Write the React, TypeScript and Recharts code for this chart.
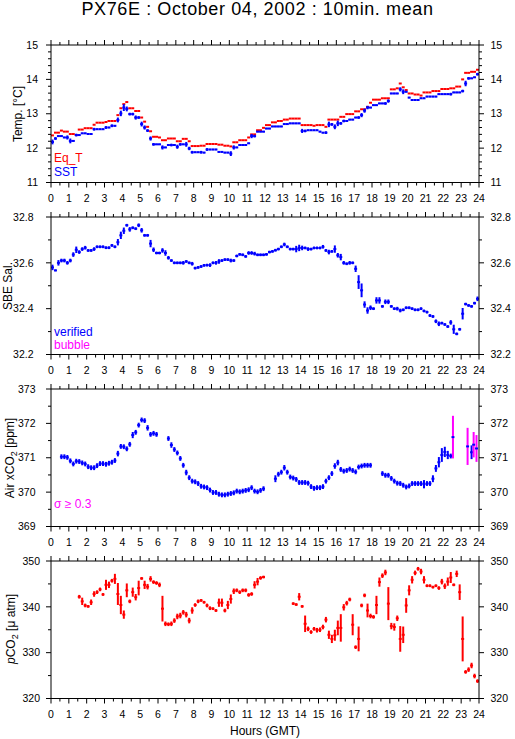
import React from 'react';
import { ScatterChart, Scatter, XAxis, YAxis, ErrorBar, Legend } from 'recharts';

const FONT = '"Liberation Sans", Arial, Helvetica, sans-serif';
const RED = '#ff0000';
const BLUE = '#0000ff';
const MAGENTA = '#ff00ff';

// x axis: hours of the day, ticks every half hour, labels every hour
const hourTicks = [
  0, 0.5, 1, 1.5, 2, 2.5, 3, 3.5, 4, 4.5, 5, 5.5, 6, 6.5, 7, 7.5, 8, 8.5, 9, 9.5, 10, 10.5, 11, 11.5,
  12, 12.5, 13, 13.5, 14, 14.5, 15, 15.5, 16, 16.5, 17, 17.5, 18, 18.5, 19, 19.5, 20, 20.5, 21, 21.5,
  22, 22.5, 23, 23.5, 24,
];
const hourLabels = [0, 1, 2, 3, 4, 5, 6, 7, 8, 9, 10, 11, 12, 13, 14, 15, 16, 17, 18, 19, 20, 21, 22, 23, 24];

const tempTicks = [11, 11.2, 11.4, 11.6, 11.8, 12, 12.2, 12.4, 12.6, 12.8, 13, 13.2, 13.4, 13.6, 13.8, 14, 14.2, 14.4, 14.6, 14.8, 15];
const tempLabels = [11, 12, 13, 14, 15];
const salTicks = [32.2, 32.3, 32.4, 32.5, 32.6, 32.7, 32.8];
const salLabels = [32.2, 32.4, 32.6, 32.8];
const co2Ticks = [369, 369.5, 370, 370.5, 371, 371.5, 372, 372.5, 373];
const co2Labels = [369, 370, 371, 372, 373];
const pco2Ticks = [320, 325, 330, 335, 340, 345, 350];
const pco2Labels = [320, 330, 340, 350];

// 10 min means, 6 per hour (row = one hour)
const eqT = [
  12.37, 12.45, 12.45, 12.51, 12.48, 12.48,
  12.41, 12.41, 12.38, 12.54, 12.54, 12.58,
  12.58, 12.58, 12.68, 12.74, 12.74, 12.74,
  12.76, 12.79, 12.79, 12.79, 12.96, 13.16,
  13.28, 13.34, 13.16, 13.16, 13.08, 13.08,
  12.89, 12.77, 12.62, 12.49, 12.33, 12.33,
  12.31, 12.23, 12.23, 12.28, 12.28, 12.28,
  12.2, 12.2, 12.27, 12.27, 12.2, 12.06,
  12.06, 12.06, 12.07, 12.07, 12.12, 12.12,
  12.12, 12.12, 12.1, 12.1, 12.07, 12.07,
  12.05, 12.17, 12.17, 12.23, 12.23, 12.23,
  12.31, 12.4, 12.4, 12.52, 12.52, 12.59,
  12.67, 12.67, 12.75, 12.75, 12.79, 12.79,
  12.83, 12.83, 12.86, 12.86, 12.86, 12.86,
  12.67, 12.67, 12.67, 12.67, 12.65, 12.67,
  12.67, 12.67, 12.62, 12.83, 12.83, 12.83,
  12.83, 12.91, 12.91, 12.99, 12.99, 12.99,
  13.07, 13.07, 13.13, 13.13, 13.2, 13.32,
  13.41, 13.41, 13.41, 13.45, 13.45, 13.45,
  13.71, 13.71, 13.74, 13.88, 13.77, 13.69,
  13.59, 13.59, 13.56, 13.56, 13.53, 13.62,
  13.62, 13.62, 13.66, 13.66, 13.66, 13.72,
  13.72, 13.72, 13.74, 13.74, 13.79, 13.79,
  14.0, 14.19, 14.19, 14.22, 14.22, 14.28,
];

const sst = [
  12.18, 12.28, 12.35, 12.35, 12.31, 12.31,
  12.21, 12.21, 12.38, 12.38, 12.43, 12.43,
  12.41, 12.41, 12.55, 12.55, 12.55, 12.55,
  12.6, 12.6, 12.65, 12.65, 12.82, 13.01,
  13.18, 13.14, 12.99, 12.99, 12.89, 12.89,
  12.7, 12.6, 12.51, 12.28, 12.11, 12.11,
  12.11, 12.02, 12.02, 12.09, 12.09, 12.09,
  12.04, 12.11, 12.11, 12.11, 11.99, 11.88,
  11.88, 11.88, 11.88, 11.87, 11.96, 11.96,
  11.96, 11.96, 11.89, 11.89, 11.87, 11.87,
  11.84, 12.02, 12.02, 12.09, 12.09, 12.09,
  12.14, 12.35, 12.35, 12.48, 12.48, 12.48,
  12.57, 12.57, 12.63, 12.63, 12.63, 12.63,
  12.7, 12.7, 12.72, 12.72, 12.72, 12.72,
  12.5, 12.5, 12.52, 12.52, 12.52, 12.52,
  12.48, 12.45, 12.45, 12.69, 12.69, 12.62,
  12.72, 12.72, 12.79, 12.79, 12.83, 12.83,
  12.89, 12.89, 12.96, 13.09, 13.18, 13.18,
  13.25, 13.25, 13.3, 13.3, 13.3, 13.37,
  13.59, 13.59, 13.59, 13.71, 13.64, 13.64,
  13.47, 13.4, 13.4, 13.4, 13.45, 13.45,
  13.5, 13.5, 13.5, 13.5, 13.57, 13.57,
  13.57, 13.57, 13.57, 13.62, 13.62, 13.62,
  13.66, 13.88, 14.03, 14.03, 14.06, 14.15,
];

const sstSigma = [
  0.07, 0.04, 0.02, 0.02, 0.02, 0.06,
  0.07, 0.02, 0.04, 0.02, 0.02, 0.02,
  0.02, 0.02, 0.04, 0.02, 0.02, 0.02,
  0.04, 0.02, 0.04, 0.02, 0.07, 0.08,
  0.1, 0.07, 0.04, 0.04, 0.06, 0.04,
  0.07, 0.06, 0.04, 0.06, 0.04, 0.02,
  0.02, 0.06, 0.02, 0.02, 0.04, 0.02,
  0.06, 0.04, 0.02, 0.07, 0.05, 0.04,
  0.02, 0.02, 0.04, 0.02, 0.04, 0.02,
  0.02, 0.02, 0.02, 0.02, 0.02, 0.02,
  0.07, 0.06, 0.02, 0.02, 0.02, 0.02,
  0.02, 0.06, 0.04, 0.02, 0.02, 0.02,
  0.02, 0.02, 0.02, 0.02, 0.02, 0.02,
  0.02, 0.02, 0.02, 0.02, 0.02, 0.02,
  0.06, 0.04, 0.02, 0.02, 0.02, 0.02,
  0.02, 0.02, 0.04, 0.08, 0.04, 0.07,
  0.08, 0.04, 0.04, 0.02, 0.02, 0.02,
  0.02, 0.04, 0.06, 0.06, 0.05, 0.02,
  0.02, 0.02, 0.02, 0.02, 0.04, 0.05,
  0.02, 0.02, 0.02, 0.06, 0.07, 0.02,
  0.02, 0.02, 0.02, 0.02, 0.02, 0.02,
  0.02, 0.02, 0.02, 0.02, 0.02, 0.02,
  0.02, 0.02, 0.04, 0.02, 0.02, 0.02,
  0.04, 0.08, 0.04, 0.02, 0.02, 0.04,
];

const salinity = [
  32.58, 32.567, 32.6, 32.61, 32.61, 32.6,
  32.61, 32.636, 32.657, 32.647, 32.66, 32.666,
  32.654, 32.654, 32.66, 32.67, 32.67, 32.67,
  32.666, 32.666, 32.676, 32.67, 32.69, 32.72,
  32.74, 32.764, 32.746, 32.753, 32.749, 32.764,
  32.742, 32.72, 32.72, 32.684, 32.657, 32.643,
  32.643, 32.654, 32.643, 32.622, 32.61, 32.6,
  32.6, 32.6, 32.6, 32.606, 32.6, 32.596,
  32.577, 32.58, 32.584, 32.589, 32.59, 32.59,
  32.6, 32.6, 32.606, 32.61, 32.614, 32.614,
  32.61, 32.61, 32.63, 32.637, 32.635, 32.628,
  32.643, 32.643, 32.64, 32.635, 32.635, 32.635,
  32.637, 32.647, 32.65, 32.655, 32.66, 32.67,
  32.68, 32.67, 32.66, 32.66, 32.66, 32.665,
  32.665, 32.665, 32.66, 32.66, 32.665, 32.665,
  32.665, 32.67, 32.654, 32.647, 32.65, 32.66,
  32.633, 32.625, 32.6, 32.596, 32.6, 32.6,
  32.574, 32.516, 32.48, 32.418, 32.392, 32.404,
  32.4, 32.436, 32.436, 32.41, 32.43, 32.43,
  32.41, 32.4, 32.4, 32.392, 32.395, 32.404,
  32.404, 32.4, 32.395, 32.395, 32.4, 32.39,
  32.385, 32.37, 32.366, 32.345, 32.334, 32.337,
  32.331, 32.322, 32.34, 32.31, 32.29, 32.31,
  32.378, 32.42, 32.414, 32.41, 32.424, 32.443,
];

const salSigma = [
  0.012, 0.004, 0.012, 0.008, 0.008, 0.008,
  0.008, 0.01, 0.014, 0.008, 0.008, 0.008,
  0.006, 0.006, 0.008, 0.006, 0.006, 0.006,
  0.006, 0.006, 0.006, 0.006, 0.014, 0.016,
  0.014, 0.006, 0.01, 0.006, 0.006, 0.008,
  0.01, 0.006, 0.006, 0.016, 0.01, 0.006,
  0.006, 0.01, 0.012, 0.008, 0.006, 0.006,
  0.006, 0.006, 0.008, 0.006, 0.006, 0.008,
  0.006, 0.006, 0.006, 0.006, 0.006, 0.008,
  0.006, 0.008, 0.01, 0.006, 0.006, 0.006,
  0.008, 0.006, 0.006, 0.006, 0.006, 0.006,
  0.008, 0.008, 0.008, 0.006, 0.006, 0.006,
  0.006, 0.006, 0.006, 0.006, 0.006, 0.006,
  0.008, 0.006, 0.006, 0.006, 0.014, 0.014,
  0.01, 0.006, 0.008, 0.006, 0.006, 0.006,
  0.006, 0.008, 0.006, 0.01, 0.006, 0.016,
  0.01, 0.014, 0.008, 0.006, 0.008, 0.006,
  0.014, 0.03, 0.03, 0.014, 0.014, 0.01,
  0.006, 0.014, 0.014, 0.006, 0.01, 0.01,
  0.006, 0.006, 0.008, 0.008, 0.006, 0.006,
  0.006, 0.006, 0.006, 0.006, 0.006, 0.006,
  0.006, 0.006, 0.006, 0.008, 0.01, 0.006,
  0.006, 0.006, 0.01, 0.02, 0.006, 0.006,
  0.025, 0.006, 0.006, 0.006, 0.006, 0.01,
];

const airCo2 = [
  null, null, null, 371.03, 371.03, 371.01,
  370.91, 370.82, 370.9, 370.89, 370.85, 370.82,
  370.74, 370.71, 370.71, 370.77, 370.83, 370.83,
  370.81, 370.84, 370.87, 370.92, 371.12, 371.33,
  371.32, 371.26, 371.39, 371.66, 371.74, 371.95,
  372.1, 372.08, 371.87, 371.68, 371.71, 371.68,
  null, null, null, 371.56, 371.37, 371.24,
  371.14, 370.98, 370.78, 370.57, 370.42, 370.32,
  370.3, 370.25, 370.17, 370.15, 370.13, 370.06,
  369.99, 369.99, 369.94, 369.92, 369.92, 369.94,
  369.96, 369.98, 370.03, 370.01, 370.03, 370.05,
  370.07, 370.13, 370.03, 370.01, 370.05, 370.1,
  null, null, null, 370.39, 370.52, 370.58,
  370.71, 370.58, 370.44, 370.41, 370.37, 370.28,
  370.28, 370.28, 370.26, 370.16, 370.11, 370.13,
  370.13, 370.16, 370.32, 370.42, 370.54, 370.76,
  370.86, 370.66, 370.61, 370.63, 370.67, 370.63,
  370.59, 370.73, 370.76, 370.78, 370.78, 370.78,
  null, null, null, 370.54, 370.49, 370.49,
  370.4, 370.32, 370.26, 370.25, 370.2, 370.15,
  370.18, 370.25, 370.25, 370.25, 370.25, 370.23,
  370.25, 370.25, 370.39, 370.69, 370.87, 371.08,
  371.17, 371.08, 371.05, null, null, null,
  null, null, null, 371.16, null, null,
];

const airCo2Sigma = [
  0, 0, 0, 0.07, 0.07, 0.07,
  0.07, 0.07, 0.07, 0.07, 0.07, 0.07,
  0.07, 0.07, 0.07, 0.07, 0.07, 0.07,
  0.07, 0.07, 0.07, 0.07, 0.08, 0.07,
  0.07, 0.07, 0.07, 0.09, 0.07, 0.07,
  0.07, 0.07, 0.08, 0.07, 0.07, 0.07,
  0, 0, 0, 0.07, 0.08, 0.07,
  0.07, 0.07, 0.07, 0.08, 0.07, 0.07,
  0.07, 0.07, 0.07, 0.07, 0.07, 0.07,
  0.07, 0.07, 0.07, 0.07, 0.07, 0.07,
  0.07, 0.07, 0.07, 0.07, 0.07, 0.07,
  0.07, 0.07, 0.07, 0.07, 0.07, 0.07,
  0, 0, 0, 0.1, 0.07, 0.07,
  0.08, 0.07, 0.07, 0.07, 0.07, 0.07,
  0.07, 0.07, 0.07, 0.07, 0.07, 0.07,
  0.07, 0.07, 0.07, 0.07, 0.07, 0.08,
  0.08, 0.07, 0.07, 0.07, 0.07, 0.07,
  0.07, 0.07, 0.07, 0.07, 0.07, 0.07,
  0, 0, 0, 0.07, 0.07, 0.07,
  0.07, 0.07, 0.07, 0.07, 0.07, 0.07,
  0.07, 0.07, 0.07, 0.07, 0.07, 0.12,
  0.07, 0.07, 0.1, 0.1, 0.15, 0.2,
  0.15, 0.12, 0.07, 0, 0, 0,
  0, 0, 0, 0.2, 0, 0,
];

// air xCO2 means with sigma >= 0.3
const co2HighHours = [22.54, 23.36, 23.7, 23.86];
const co2HighValues = [371.6, 371.33, 371.38, 371.27];
const co2HighSigma = [0.62, 0.54, 0.37, 0.39];

const pco2 = [
  null, null, null, null, null, null,
  null, null, null, 342.2, 341.2, 340.3,
  340.1, 341.0, 342.8, 343.2, 343.8, 342.7,
  344.8, 344.8, 345.7, 346.1, 342.8, 340.4,
  338.3, 343.6, 341.2, 343.2, 342.1, 344.1,
  346.2, 344.8, 344.4, 346.1, 345.4, 345.2,
  344.8, 339.6, 336.3, 336.2, 336.3, 337.0,
  337.9, 338.1, 338.8, 338.3, 337.0, 339.2,
  340.4, 341.2, 341.4, 341.0, 340.3, 339.7,
  339.6, 339.2, 340.9, 340.9, 339.2, 340.4,
  341.7, 343.4, 343.6, 343.2, 343.6, 343.6,
  342.6, 342.8, 344.8, 345.5, 346.3, 346.5,
  null, null, null, null, null, null,
  null, null, null, 340.7, 340.5, 342.2,
  340.1, 336.3, 335.2, 334.5, 335.2, 334.9,
  335.0, 335.6, 337.2, 333.9, 333.0, 333.8,
  335.4, 335.4, 339.9, 340.8, 341.6, 336.1,
  331.2, 333.0, 340.3, 342.5, 339.2, 338.0,
  337.8, 340.4, 345.4, 346.8, 347.5, 340.7,
  335.8, 335.6, 337.5, 333.0, 333.9, 340.3,
  343.6, 345.9, 347.4, 348.3, 347.7, 345.9,
  344.6, 344.6, 344.3, 344.6, 344.1, 345.5,
  344.5, 345.5, 346.4, 344.8, 347.2, 343.2,
  333.0, 325.8, 326.3, 327.2, 324.9, 323.8,
];

const pco2Sigma = [
  0, 0, 0, 0, 0, 0,
  0, 0, 0, 0.4, 0.8, 0.4,
  0.3, 0.6, 0.6, 0.4, 0.4, 0.3,
  1.1, 0.7, 0.4, 1.1, 2.4, 2.0,
  0.9, 1.5, 0.4, 1.0, 0.7, 1.6,
  0.3, 0.9, 0.6, 0.6, 0.4, 0.4,
  0.5, 2.8, 0.5, 0.4, 0.5, 0.5,
  0.6, 0.6, 0.5, 0.6, 0.6, 0.7,
  0.4, 0.4, 0.3, 0.3, 0.4, 0.4,
  0.3, 0.3, 0.9, 0.9, 0.4, 0.9,
  1.0, 0.6, 0.4, 0.4, 0.4, 0.4,
  0.4, 0.4, 0.8, 0.8, 0.4, 0.3,
  0, 0, 0, 0, 0, 0,
  0, 0, 0, 0.3, 0.3, 0.8,
  0.3, 1.8, 0.5, 0.4, 0.4, 0.5,
  0.5, 0.5, 0.6, 0.9, 0.9, 1.2,
  1.6, 3.0, 0.7, 0.5, 0.4, 2.3,
  0.4, 2.7, 0.4, 0.4, 1.5, 0.5,
  0.4, 2.0, 1.0, 0.5, 0.6, 3.6,
  0.7, 0.8, 0.6, 2.8, 1.8, 1.6,
  1.1, 0.8, 0.5, 0.4, 0.6, 0.8,
  0.3, 0.3, 0.3, 0.3, 0.4, 0.6,
  0.6, 0.9, 1.2, 0.3, 0.7, 1.7,
  4.9, 0.4, 0.5, 0.6, 0.5, 0.4,
];

type Pt = { t: number; v: number; e: number; w: number };

// index i is the 10 min bin from i/6 to (i+1)/6 hours; w is the half width of the bin
function toPoints(vals: (number | null)[], sigma?: number[]): Pt[] {
  const out: Pt[] = [];
  vals.forEach((v, i) => {
    if (v === null) return;
    out.push({ t: (i + 0.5) / 6, v, e: sigma ? sigma[i] : 0, w: 1 / 12 });
  });
  return out;
}

const eqTPts = toPoints(eqT);
const sstPts = toPoints(sst, sstSigma);
const salPts = toPoints(salinity, salSigma);
const co2Pts = toPoints(airCo2, airCo2Sigma);
const co2HighPts: Pt[] = co2HighHours.map((t, i) => ({ t, v: co2HighValues[i], e: co2HighSigma[i], w: 1 / 12 }));
const pco2Pts = toPoints(pco2, pco2Sigma);

const NoDot = () => <g />;

const XTick = (props: any) => {
  const { x, y, payload, side, showLabels } = props;
  const v = payload.value;
  const major = hourLabels.includes(v);
  const len = major ? 5 : 3;
  const dir = side === 'top' ? -1 : 1;
  return (
    <g>
      <line x1={x} x2={x} y1={y} y2={y + dir * len} stroke="#000" />
      {showLabels && major && (
        <text x={x} y={y + 19} textAnchor="middle" fontSize={10.5} fontFamily={FONT} fill="#000">
          {v}
        </text>
      )}
    </g>
  );
};

const YTick = (props: any) => {
  const { x, y, payload, side, labels, digits, gap } = props;
  const v = payload.value;
  const major = labels.some((l: number) => Math.abs(l - v) < 1e-6);
  const len = major ? 5 : 3;
  const dir = side === 'left' ? -1 : 1;
  return (
    <g>
      <line x1={x} x2={x + dir * len} y1={y} y2={y} stroke="#000" />
      {major && (
        <text
          x={x + dir * gap}
          y={y + 3.7}
          textAnchor={side === 'left' ? 'end' : 'start'}
          fontSize={10.5}
          fontFamily={FONT}
          fill="#000"
        >
          {v.toFixed(digits)}
        </text>
      )}
    </g>
  );
};

const hoursTitle = (props: any) => {
  const vb = props.viewBox;
  return (
    <text x={vb.x + vb.width / 2} y={vb.y + 36} textAnchor="middle" fontSize={12} fontFamily={FONT} fill="#000">
      Hours (GMT)
    </text>
  );
};

type LegendLine = { text: string; color: string };

const legendBox = (lines: LegendLine[], lineHeight: number) => () => (
  <div style={{ fontFamily: FONT, fontSize: 12, lineHeight: `${lineHeight}px`, whiteSpace: 'nowrap' }}>
    {lines.map((l) => (
      <div key={l.text} style={{ color: l.color }}>
        {l.text}
      </div>
    ))}
  </div>
);

const PLOT_H = 137.5;
const W = 515;

type PanelProps = {
  top: number;
  domain: [number, number];
  yTicks: number[];
  yLabels: number[];
  digits: number;
  labelGap: number;
  title: React.ReactNode;
  titleX: number;
  legend: LegendLine[];
  legendTop: number;
  legendLine: number;
  last?: boolean;
  children: React.ReactNode;
};

function Panel(p: PanelProps) {
  const { top, domain, yTicks, yLabels, digits, labelGap, title, titleX, legend, legendTop, legendLine, last, children } = p;
  const bottomH = last ? 40 : 25;
  const height = 20 + PLOT_H + bottomH;
  return (
    <>
      <div style={{ position: 'absolute', left: 0, top: top - 20, width: W, height }}>
        <ScatterChart width={W} height={height} margin={{ top: 15, right: 6, bottom: 0, left: 11 }}>
          <XAxis
            xAxisId="b"
            dataKey="t"
            type="number"
            domain={[0, 24]}
            ticks={hourTicks}
            interval={0}
            allowDataOverflow
            height={bottomH}
            tickSize={0}
            tickMargin={0}
            tickLine={false}
            axisLine={{ stroke: '#000' }}
            tick={<XTick side="bottom" showLabels />}
            label={last ? hoursTitle : undefined}
          />
          <XAxis
            xAxisId="t"
            orientation="top"
            dataKey="t"
            type="number"
            domain={[0, 24]}
            ticks={hourTicks}
            interval={0}
            allowDataOverflow
            height={5}
            tickSize={0}
            tickMargin={0}
            tickLine={false}
            axisLine={{ stroke: '#000' }}
            tick={<XTick side="top" />}
          />
          <YAxis
            yAxisId="l"
            dataKey="v"
            type="number"
            domain={domain}
            ticks={yTicks}
            interval={0}
            allowDataOverflow
            width={40}
            tickSize={0}
            tickMargin={0}
            tickLine={false}
            axisLine={{ stroke: '#000' }}
            tick={<YTick side="left" labels={yLabels} digits={digits} gap={labelGap} />}
          />
          <YAxis
            yAxisId="r"
            orientation="right"
            dataKey="v"
            type="number"
            domain={domain}
            ticks={yTicks}
            interval={0}
            allowDataOverflow
            width={30}
            tickSize={0}
            tickMargin={0}
            tickLine={false}
            axisLine={{ stroke: '#000' }}
            tick={<YTick side="right" labels={yLabels} digits={digits} gap={11.5} />}
          />
          <Legend
            layout="vertical"
            align="center"
            verticalAlign="middle"
            content={legendBox(legend, legendLine)}
            wrapperStyle={{ left: 54, top: legendTop, width: 'auto', height: 'auto' }}
          />
          {children}
        </ScatterChart>
      </div>
      <div
        style={{
          position: 'absolute',
          left: titleX,
          top: top + PLOT_H / 2,
          transform: 'translate(-50%, -50%) rotate(-90deg)',
          whiteSpace: 'nowrap',
          fontSize: 12,
          lineHeight: '13px',
          color: '#000',
        }}
      >
        {title}
      </div>
    </>
  );
}

const sub2 = <span style={{ fontSize: 9, position: 'relative', top: 3 }}>2</span>;

export default function App() {
  return (
    <div style={{ position: 'absolute', left: 0, top: 0, width: W, height: 739, background: '#fff', fontFamily: FONT }}>
      <div
        style={{
          position: 'absolute',
          top: -1,
          left: 0,
          width: W,
          textAlign: 'center',
          fontSize: 18,
          letterSpacing: 0.6,
          lineHeight: '20px',
          color: '#000',
        }}
      >
        PX76E : October 04, 2002 : 10min. mean
      </div>

      <Panel
        top={45}
        domain={[11, 15]}
        yTicks={tempTicks}
        yLabels={tempLabels}
        digits={0}
        labelGap={13}
        title="Temp. [°C]"
        titleX={17.5}
        legend={[
          { text: 'Eq_T', color: RED },
          { text: 'SST', color: BLUE },
        ]}
        legendTop={126}
        legendLine={14.4}
      >
        <Scatter name="Eq_T" data={eqTPts} xAxisId="b" yAxisId="l" shape={NoDot} isAnimationActive={false}>
          <ErrorBar dataKey="w" direction="x" width={0} stroke={RED} strokeWidth={2} isAnimationActive={false} />
        </Scatter>
        <Scatter name="SST" data={sstPts} xAxisId="b" yAxisId="l" shape={NoDot} isAnimationActive={false}>
          <ErrorBar dataKey="w" direction="x" width={0} stroke={BLUE} strokeWidth={2} isAnimationActive={false} />
          <ErrorBar dataKey="e" direction="y" width={0} stroke={BLUE} strokeWidth={2} isAnimationActive={false} />
        </Scatter>
      </Panel>

      <Panel
        top={216.9}
        domain={[32.2, 32.8]}
        yTicks={salTicks}
        yLabels={salLabels}
        digits={1}
        labelGap={17.5}
        title="SBE Sal."
        titleX={7.5}
        legend={[
          { text: 'verified', color: BLUE },
          { text: 'bubble', color: MAGENTA },
        ]}
        legendTop={129.4}
        legendLine={12.5}
      >
        <Scatter name="verified" data={salPts} xAxisId="b" yAxisId="l" shape={NoDot} isAnimationActive={false}>
          <ErrorBar dataKey="w" direction="x" width={0} stroke={BLUE} strokeWidth={2} isAnimationActive={false} />
          <ErrorBar dataKey="e" direction="y" width={0} stroke={BLUE} strokeWidth={2} isAnimationActive={false} />
        </Scatter>
      </Panel>

      <Panel
        top={388.8}
        domain={[369, 373]}
        yTicks={co2Ticks}
        yLabels={co2Labels}
        digits={0}
        labelGap={15.5}
        title={<>Air xCO{sub2} [ppm]</>}
        titleX={11}
        legend={[{ text: 'σ ≥ 0.3', color: MAGENTA }]}
        legendTop={128.3}
        legendLine={14}
      >
        <Scatter name="air" data={co2Pts} xAxisId="b" yAxisId="l" shape={NoDot} isAnimationActive={false}>
          <ErrorBar dataKey="w" direction="x" width={0} stroke={BLUE} strokeWidth={2} isAnimationActive={false} />
          <ErrorBar dataKey="e" direction="y" width={0} stroke={BLUE} strokeWidth={2} isAnimationActive={false} />
        </Scatter>
        <Scatter name="sigma" data={co2HighPts} xAxisId="b" yAxisId="l" shape={NoDot} isAnimationActive={false}>
          <ErrorBar dataKey="e" direction="y" width={0} stroke={MAGENTA} strokeWidth={2} isAnimationActive={false} />
          <ErrorBar dataKey="w" direction="x" width={0} stroke={BLUE} strokeWidth={2} isAnimationActive={false} />
        </Scatter>
      </Panel>

      <Panel
        top={560.7}
        domain={[320, 350]}
        yTicks={pco2Ticks}
        yLabels={pco2Labels}
        digits={0}
        labelGap={11}
        title={
          <>
            <i>p</i>CO{sub2} [μ atm]
          </>
        }
        titleX={12}
        legend={[]}
        legendTop={130}
        legendLine={14}
        last
      >
        <Scatter name="pCO2" data={pco2Pts} xAxisId="b" yAxisId="l" shape={NoDot} isAnimationActive={false}>
          <ErrorBar dataKey="w" direction="x" width={0} stroke={RED} strokeWidth={2} isAnimationActive={false} />
          <ErrorBar dataKey="e" direction="y" width={0} stroke={RED} strokeWidth={2} isAnimationActive={false} />
        </Scatter>
      </Panel>
    </div>
  );
}
